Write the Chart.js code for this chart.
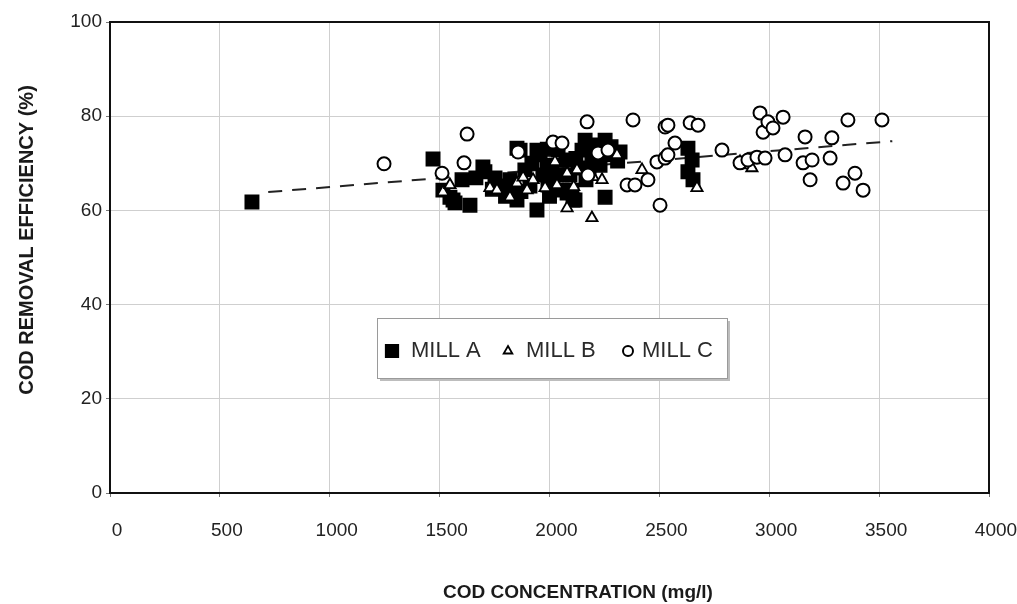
<!DOCTYPE html>
<html>
<head>
<meta charset="utf-8">
<script src="https://cdn.jsdelivr.net/npm/chart.js@4.4.1/dist/chart.umd.min.js"></script>
<style>
  html, body { margin: 0; padding: 0; background: #fff; }
  #wrap { width: 1017px; height: 604px; }
</style>
</head>
<body>
<div id="wrap"><canvas id="myChart" width="1017" height="604"></canvas></div>
<script>
// values
const millAX = [646, 1470, 1515, 1547, 1561, 1570, 1638, 1602, 1665, 1697, 1706, 1740, 1752, 1788, 1800, 1820, 1830, 1852, 1852, 1866, 1870, 1888, 1911, 1920, 1943, 1943, 1957, 1970, 1989, 1990, 1993, 2000, 2011, 2030, 2039, 2057, 2075, 2080, 2093, 2102, 2107, 2116, 2120, 2130, 2148, 2162, 2166, 2180, 2193, 2200, 2216, 2230, 2253, 2253, 2275, 2280, 2310, 2321, 2630, 2649, 2630, 2653];
const millAY = [61.8, 70.9, 64.3, 62.8, 62.2, 61.6, 61.1, 66.5, 66.9, 69.2, 68.2, 64.5, 66.9, 65.2, 63.0, 66.5, 63.9, 62.2, 73.2, 72.8, 64.0, 68.6, 65.2, 70.0, 60.1, 72.8, 71.8, 67.5, 69.2, 73.0, 65.4, 63.0, 69.6, 67.5, 72.8, 64.3, 70.7, 63.7, 67.5, 64.3, 62.2, 62.2, 71.0, 69.0, 72.8, 74.9, 66.5, 68.0, 70.7, 72.0, 73.9, 69.6, 74.9, 62.8, 71.8, 73.5, 70.5, 72.4, 73.2, 70.7, 68.2, 66.5];

const millBX = [1515, 1547, 1729, 1761, 1820, 1852, 1898, 1925, 1980, 2025, 2034, 2080, 2080, 2125, 2193, 2198, 2239, 2307, 2421, 2671, 2867, 2912, 2921, 1880, 2110];
const millBY = [63.9, 65.4, 64.8, 64.3, 62.8, 65.8, 64.3, 66.5, 64.8, 70.3, 65.4, 67.9, 60.5, 68.6, 58.4, 67.1, 66.5, 71.8, 68.6, 64.8, 70.3, 69.6, 69.0, 67.0, 65.0];

const millCX = [1247, 1511, 1611, 1625, 1857, 2016, 2057, 2171, 2175, 2221, 2266, 2353, 2380, 2389, 2448, 2489, 2503, 2526, 2526, 2539, 2539, 2571, 2640, 2676, 2785, 2867, 2903, 2944, 2958, 2972, 2981, 2994, 3017, 3063, 3072, 3154, 3163, 3186, 3195, 3277, 3285, 3336, 3358, 3390, 3427, 3513];
const millCY = [69.9, 67.9, 70.1, 76.2, 72.4, 74.5, 74.3, 78.8, 67.5, 72.2, 72.8, 65.4, 79.2, 65.4, 66.5, 70.3, 61.1, 77.7, 71.1, 78.1, 71.8, 74.3, 78.6, 78.1, 72.8, 70.1, 70.7, 71.3, 80.7, 76.6, 71.1, 78.8, 77.5, 79.8, 71.8, 70.1, 75.6, 66.5, 70.7, 71.1, 75.4, 65.8, 79.2, 67.9, 64.3, 79.2];

const trendX = [720, 3560];
const trendY = [63.9, 74.7];

const xTicks = [0, 500, 1000, 1500, 2000, 2500, 3000, 3500, 4000];
const yTicks = [0, 20, 40, 60, 80, 100];

const toPoints = (xs, ys) => xs.map((x, i) => ({ x: x, y: ys[i] }));

const FONT = "'Liberation Sans', Arial, sans-serif";

// frame, legend box and axis titles
const decorPlugin = {
    id: 'decor',
    afterDraw(chart) {
        const ctx = chart.ctx;
        const a = chart.chartArea;
        ctx.save();
        ctx.strokeStyle = '#111';
        ctx.lineWidth = 2;
        ctx.strokeRect(a.left, a.top, a.right - a.left, a.bottom - a.top);

        // legend
        const lx = 377, ly = 318, lw = 350, lh = 60;
        ctx.fillStyle = '#bdbdbd';
        ctx.fillRect(lx + 3, ly + 3, lw, lh);
        ctx.fillStyle = '#fff';
        ctx.fillRect(lx, ly, lw, lh);
        ctx.strokeStyle = '#9a9a9a';
        ctx.lineWidth = 1;
        ctx.strokeRect(lx + 0.5, ly + 0.5, lw, lh);

        const items = [
            { ds: 0, mx: lx + 15, tx: lx + 34 },
            { ds: 1, mx: lx + 131, tx: lx + 149 },
            { ds: 2, mx: lx + 251, tx: lx + 265 }
        ];
        const my = ly + 33;
        items.forEach(it => {
            const d = chart.data.datasets[it.ds];
            ctx.fillStyle = d.backgroundColor;
            ctx.strokeStyle = d.borderColor;
            ctx.lineWidth = d.borderWidth;
            Chart.helpers.drawPoint(ctx, {
                pointStyle: d.pointStyle,
                radius: d.legendRadius,
                borderWidth: d.borderWidth,
                rotation: 0
            }, it.mx, my);
            ctx.fillStyle = '#2a2a2a';
            ctx.font = '22px ' + FONT;
            ctx.textAlign = 'left';
            ctx.textBaseline = 'middle';
            ctx.fillText(d.label, it.tx, my);
        });

        // axis titles
        ctx.fillStyle = '#1a1a1a';
        ctx.font = 'bold 19px ' + FONT;
        ctx.textAlign = 'center';
        ctx.textBaseline = 'middle';
        ctx.fillText('COD CONCENTRATION (mg/l)', 578, 593);
        ctx.translate(27, 240);
        ctx.rotate(-Math.PI / 2);
        ctx.font = 'bold 20px ' + FONT;
        ctx.fillText('COD REMOVAL EFFICIENCY (%)', 0, 0);
        ctx.restore();
    }
};

const config = {
    type: 'scatter',
    data: {
        datasets: [
            {
                label: 'MILL A',
                data: toPoints(millAX, millAY),
                pointStyle: 'rect',
                pointRadius: 9.5,
                legendRadius: 9,
                backgroundColor: '#000',
                borderColor: '#000',
                borderWidth: 1.5,
                order: 3
            },
            {
                label: 'MILL B',
                data: toPoints(millBX, millBY),
                pointStyle: 'triangle',
                pointRadius: 6.5,
                legendRadius: 5,
                backgroundColor: '#fff',
                borderColor: '#000',
                borderWidth: 1.8,
                order: 2
            },
            {
                label: 'MILL C',
                data: toPoints(millCX, millCY),
                pointStyle: 'circle',
                pointRadius: 6.5,
                legendRadius: 5,
                backgroundColor: '#fff',
                borderColor: '#000',
                borderWidth: 2,
                order: 1
            },
            {
                type: 'line',
                label: 'trend',
                data: toPoints(trendX, trendY),
                borderColor: '#222',
                borderWidth: 2,
                borderDash: [14, 10],
                pointRadius: 0,
                fill: false,
                order: 4
            }
        ]
    },
    options: {
        responsive: false,
        animation: false,
        layout: { padding: { top: 22, right: 28, left: 0, bottom: 0 } },
        plugins: {
            legend: { display: false },
            tooltip: { enabled: false }
        },
        scales: {
            x: {
                type: 'linear',
                min: 0,
                max: 4000,
                afterBuildTicks: s => { s.ticks = xTicks.map(v => ({ value: v })); },
                afterFit: s => { s.height = 111; s.paddingLeft = 0; s.paddingRight = 0; },
                grid: { color: '#cfcfcf', tickLength: 4, tickColor: '#777' },
                border: { display: false },
                ticks: {
                    color: '#222',
                    font: { family: FONT, size: 19 },
                    padding: 22,
                    labelOffset: 7,
                    maxRotation: 0,
                    callback: v => String(v)
                }
            },
            y: {
                min: 0,
                max: 100,
                afterBuildTicks: s => { s.ticks = yTicks.map(v => ({ value: v })); },
                afterFit: s => { s.width = 110; s.paddingTop = 0; s.paddingBottom = 0; },
                grid: { color: '#cfcfcf', tickLength: 4, tickColor: '#777' },
                border: { display: false },
                ticks: {
                    color: '#222',
                    font: { family: FONT, size: 19 },
                    padding: 4,
                    callback: v => String(v)
                }
            }
        }
    },
    plugins: [decorPlugin]
};

const ctx = document.getElementById('myChart').getContext('2d');
const myChart = new Chart(ctx, config);
</script>
</body>
</html>
